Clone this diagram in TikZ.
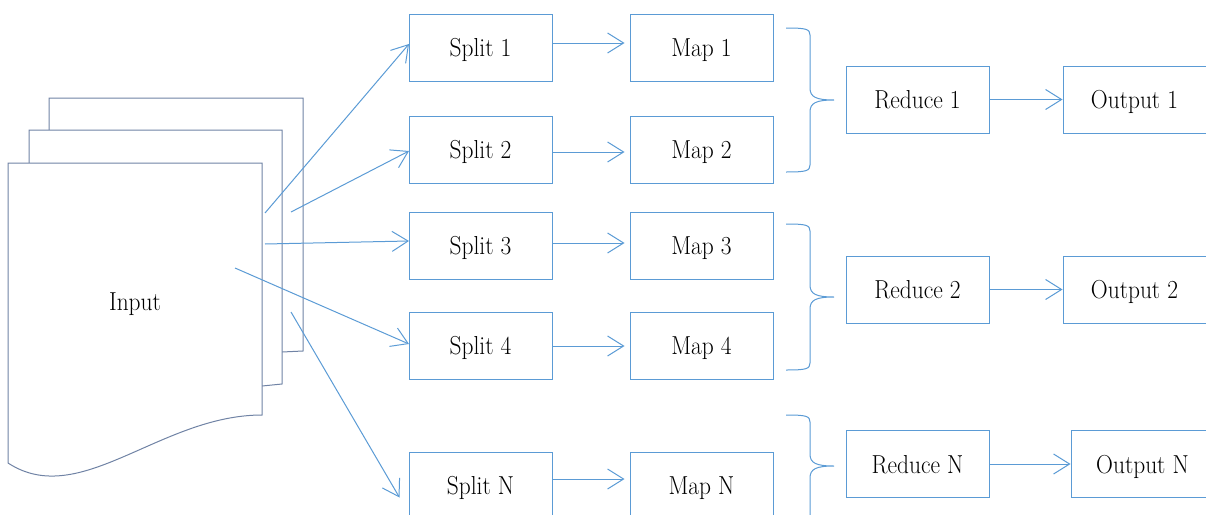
\documentclass[tikz,border=0pt]{standalone}
\usetikzlibrary{arrows.meta}
\definecolor{boxblue}{RGB}{91,155,213}
\definecolor{docgray}{RGB}{112,131,165}
\newcommand{\lbl}[1]{\scalebox{0.9}[1]{#1}}
\tikzset{
  lbltext/.style={inner sep=0pt, text height=18pt, text depth=0pt, font=\fontsize{26}{30}\selectfont},
  box/.style={lbltext, draw=boxblue, line width=1pt, minimum width=143pt, minimum height=67pt},
  arr/.style={draw=boxblue, line width=1pt, -{Straight Barb[length=16pt,width=20pt]}},
  brace/.style={draw=boxblue, line width=1pt},
  sheet/.style={draw=docgray, line width=1pt, fill=white}
}
\begin{document}
\begin{tikzpicture}[x=1pt,y=-1pt]
\useasboundingbox (0,0) rectangle (1206,514);
\clip (0,0) rectangle (1206,514);
% input document stack
\draw[sheet] (49,98) -- (303,98) -- (303,351) -- (282,352) -- (49,352) -- cycle;
\draw[sheet] (29,130) -- (282,130) -- (282,384) -- (262,386) -- (29,386) -- cycle;
\draw[sheet] (8,163) -- (262,163) -- (262,415) .. controls (160,415) and (80,510) .. (8,463) -- cycle;
\node[lbltext] (in) at (135,301) {\lbl{Input}};
\coordinate (i1) at (265,213);
\coordinate (i2) at (291,212);
\coordinate (i3) at (265,244);
\coordinate (i4) at (235,268);
\coordinate (i5) at (291,312);
% splits and maps
\node[box] (s1) at (480.5,47.5) {\lbl{Split 1}};
\node[box] (s2) at (480.5,149.5) {\lbl{Split 2}};
\node[box] (s3) at (480.5,245.5) {\lbl{Split 3}};
\node[box] (s4) at (480.5,345.5) {\lbl{Split 4}};
\node[box] (sN) at (480.5,485.5) {\lbl{Split N}};
\node[box] (m1) at (701.5,47.5) {\lbl{Map 1}};
\node[box] (m2) at (701.5,149.5) {\lbl{Map 2}};
\node[box] (m3) at (701.5,245.5) {\lbl{Map 3}};
\node[box] (m4) at (701.5,345.5) {\lbl{Map 4}};
\node[box] (mN) at (701.5,485.5) {\lbl{Map N}};
% reduces and outputs
\node[box] (r1) at (917.5,99.5) {\lbl{Reduce 1}};
\node[box] (r2) at (917.5,289.5) {\lbl{Reduce 2}};
\node[box] (rN) at (917.5,464) {\lbl{Reduce N}};
\node[box] (o1) at (1134.5,99.5) {\lbl{Output 1}};
\node[box] (o2) at (1134.5,289.5) {\lbl{Output 2}};
\node[box] (oN) at (1142.5,464) {\lbl{Output N}};
% input arrows
\draw[arr] (i1) -- (409,44);
\draw[arr] (i2) -- (409,151);
\draw[arr] (i3) -- (409,241);
\draw[arr] (i4) -- (409,344);
\coordinate (sNin) at ([xshift=-9pt,yshift=-12pt]sN.west);
\draw[arr] (i5) -- (sNin);
% split -> map
\foreach \k/\dy in {1/-4.5,2/2.5,3/-2.5,4/0.5,N/-6.5}{
  \draw[arr, shorten >=5pt] ([yshift=-\dy pt]s\k.east) -- ([yshift=-\dy pt]m\k.west);
}
% reduce -> output
\draw[arr] (r1) -- (o1);
\draw[arr] (r2) -- (o2);
\draw[arr] (rN.east) -- (oN.west);
% braces
\foreach \t/\m/\b in {28/100/172, 224/297/370, 415/466/539}{
  \draw[brace] (786,\t) .. controls (806,\t) and (810,\t+1) .. (810,\t+7)
    -- (810,\m-12) .. controls (810,\m-3) and (816,\m) .. (834,\m)
    .. controls (816,\m) and (810,\m+3) .. (810,\m+12)
    -- (810,\b-7) .. controls (810,\b-1) and (806,\b) .. (786,\b);
}
\end{tikzpicture}
\end{document}
